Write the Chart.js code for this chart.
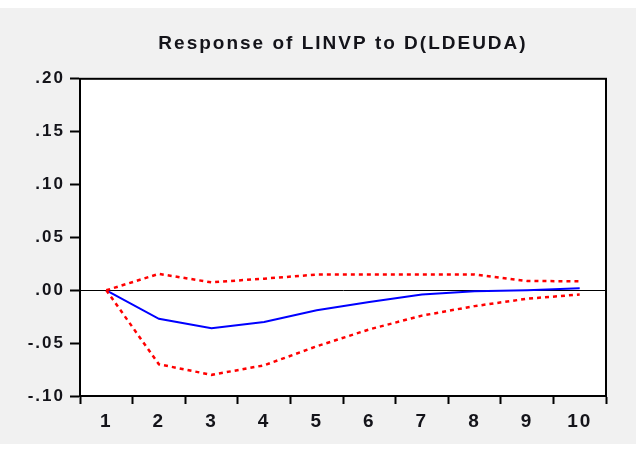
<!DOCTYPE html>
<html>
<head>
<meta charset="utf-8">
<script src="https://cdn.jsdelivr.net/npm/chart.js@4"></script>
<style>
  html, body { margin: 0; padding: 0; background: #fff; }
  #wrap { width: 640px; height: 450px; }
</style>
</head>
<body>
<div id="wrap"><canvas id="chart" width="640" height="450"></canvas></div>
<script>
// impulse response, periods 1..10
const periods = ['1', '2', '3', '4', '5', '6', '7', '8', '9', '10'];
const response = [0, -0.027, -0.036, -0.030, -0.019, -0.011, -0.004, -0.001, 0.000, 0.002];
const upperBand = [0, 0.0155, 0.0075, 0.011, 0.0148, 0.015, 0.015, 0.015, 0.0088, 0.0085];
const lowerBand = [0, -0.070, -0.080, -0.071, -0.053, -0.037, -0.024, -0.015, -0.008, -0.004];
const yTicks = [-0.10, -0.05, 0.00, 0.05, 0.10, 0.15, 0.20];

const textColor = '#14141a';
const fontFamily = "'Liberation Sans', Arial, sans-serif";

// .20 / -.05 style labels (EViews)
function fmtTick(v) {
  const s = Math.abs(v).toFixed(2).replace(/^0/, '');
  return v < -1e-9 ? '-' + s : s;
}

// gray frame + white plot box + black border, wide letter spacing
const framePlugin = {
  id: 'frame',
  beforeUpdate(chart) { chart.ctx.letterSpacing = '2px'; },
  beforeDraw(chart) {
    const c = chart.ctx, a = chart.chartArea;
    c.letterSpacing = '2px';
    c.save();
    c.fillStyle = '#f1f1f1';
    c.fillRect(0, 8, 636, 436);
    c.fillStyle = '#fff';
    c.fillRect(a.left, a.top, a.right - a.left, a.bottom - a.top);
    c.restore();
  },
  afterDraw(chart) {
    const c = chart.ctx, a = chart.chartArea;
    c.save();
    c.strokeStyle = '#000';
    c.lineWidth = 2;
    c.strokeRect(a.left, a.top, a.right - a.left, a.bottom - a.top);
    c.restore();
  }
};

const redDots = {
  borderColor: '#ff0000',
  borderWidth: 2.5,
  borderDash: [4, 4],
  pointRadius: 0,
  tension: 0,
  fill: false
};

new Chart(document.getElementById('chart'), {
  type: 'line',
  data: {
    labels: periods,
    datasets: [
      Object.assign({ label: 'upper', data: upperBand }, redDots),
      Object.assign({ label: 'lower', data: lowerBand }, redDots),
      {
        label: 'response',
        data: response,
        borderColor: '#0000ff',
        borderWidth: 2,
        pointRadius: 0,
        tension: 0
      }
    ]
  },
  options: {
    responsive: false,
    animation: false,
    layout: { padding: { top: 0, left: 0, right: 34, bottom: 0 } },
    plugins: {
      legend: { display: false },
      tooltip: { enabled: false },
      title: {
        display: true,
        fullSize: false,
        text: 'Response of LINVP to D(LDEUDA)',
        color: textColor,
        font: { family: fontFamily, size: 19, weight: 'bold', lineHeight: 1.2 },
        padding: { top: 32, bottom: 24 }
      }
    },
    scales: {
      x: {
        type: 'category',
        offset: true,
        grid: {
          offset: true,
          drawOnChartArea: false,
          drawTicks: true,
          tickLength: 8,
          tickWidth: 2,
          tickColor: '#000'
        },
        border: { display: true, color: '#000', width: 2 },
        ticks: {
          color: textColor,
          padding: 6,
          font: { family: fontFamily, size: 19, weight: 'bold' },
          maxRotation: 0
        },
        afterFit(scale) { scale.height = 54; }
      },
      y: {
        min: -0.10,
        max: 0.20,
        afterBuildTicks(scale) { scale.ticks = yTicks.map(v => ({ value: v })); },
        grid: {
          color: ctx => (ctx.tick && Math.abs(ctx.tick.value) < 1e-9) ? '#000' : 'rgba(0,0,0,0)',
          lineWidth: 1,
          tickLength: 10,
          tickWidth: 2,
          tickColor: '#000'
        },
        border: { display: true, color: '#000', width: 2 },
        ticks: {
          color: textColor,
          padding: 5,
          font: { family: fontFamily, size: 17, weight: 'bold' },
          callback: v => fmtTick(v)
        },
        afterFit(scale) { scale.width = 80; }
      }
    }
  },
  plugins: [framePlugin]
});
</script>
</body>
</html>
